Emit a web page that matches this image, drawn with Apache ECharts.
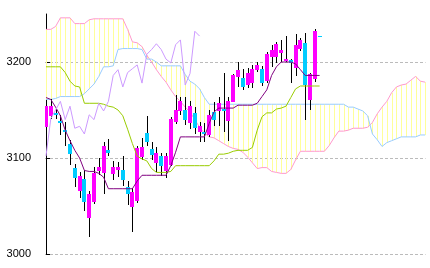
<!DOCTYPE html>
<html><head><meta charset="utf-8">
<script src="https://cdn.jsdelivr.net/npm/echarts@6/dist/echarts.min.js"></script>
<style>html,body{margin:0;padding:0;background:#fff}#c{width:430px;height:268px}</style>
</head><body><div id="c"></div>
<script>
// Candles (index 0..57)
const opens  = [3132,3144,3147,3139,3129,3115,3090,3066,3078,3037,3054,3086,3084,3108,3083,3087,3088,3070,3049,3055,3101,3126,3109,3095,3102,3086,3093,3137,3149,3150,3136,3147,3127,3127,3124,3148,3149,3151,3139,3158,3184,3183,3176,3178,3192,3193,3180,3205,3205,3209,3201,3202,3194,3214,3220,3160,3182,3227];
const closes = [3154,3154,3145,3136,3127,3104,3079,3081,3054,3062,3084,3091,3113,3105,3091,3091,3077,3062,3065,3110,3111,3117,3103,3105,3092,3102,3141,3150,3159,3140,3154,3131,3133,3125,3145,3140,3157,3149,3159,3186,3192,3174,3189,3193,3197,3178,3208,3213,3219,3213,3203,3199,3218,3223,3176,3188,3232,3227];
const lows   = [3130,3141,3141,3124,3112,3093,3070,3058,3045,3018,3052,3082,3062,3102,3077,3080,3071,3051,3023,3053,3098,3112,3098,3085,3081,3079,3092,3135,3145,3134,3130,3125,3117,3117,3122,3133,3133,3127,3118,3158,3174,3171,3173,3173,3190,3175,3178,3195,3199,3200,3200,3178,3185,3211,3140,3150,3179,3227];
const highs  = [3156,3161,3151,3145,3138,3119,3094,3085,3088,3066,3091,3100,3117,3120,3097,3096,3102,3076,3069,3113,3121,3144,3117,3111,3105,3105,3143,3166,3164,3164,3159,3153,3138,3136,3150,3158,3164,3189,3164,3187,3200,3193,3194,3197,3200,3196,3210,3218,3221,3223,3227,3203,3229,3225,3230,3189,3234,3227];
// Ichimoku lines
const tenkan = [3163,3161,3153,3144,3129,3118,3108,3100,3087,3086,3086,3084,3080,3068,3068,3068,3068,3068,3068,3076,3082,3082,3082,3082,3082,3082,3092,3106,3122,3122,3122,3122,3122,3122,3136,3148,3152,3152,3152,3152,3155,3155,3155,3155,3157,3164,3171,3186,3195,3200,3200,3200,3198,3192,3186,3186,3186,3186];
const kijun  = [3195,3195,3195,3195,3189,3180,3175,3174,3157,3157,3157,3157,3156,3154,3153,3150,3144,3130,3115,3102,3099,3097,3089,3085,3085,3085,3086,3092,3092,3092,3092,3092,3092,3092,3092,3097,3104,3104,3105,3107,3108,3108,3108,3111,3129,3143,3147,3147,3151,3152,3154,3163,3172,3175,3175,3175,3175,3175];
const spanA  = [3234,3234,3237,3246,3246,3246,3240,3240,3240,3244,3245,3245,3245,3245,3245,3245,3245,3234,3221,3220,3216,3207,3200,3192,3185,3179,3171,3164,3159,3153,3148,3140,3132,3126,3122,3121,3118,3115,3112,3110,3109,3106,3101,3095,3089,3090,3090,3086,3085,3084,3084,3088,3098,3107,3107,3107,3107,3107,3107,3113,3121,3128,3128,3129,3131,3131,3131,3132,3137,3146,3153,3159,3168,3174,3176,3177,3181,3185,3180,3179];
const spanB  = [3161,3161,3162,3164,3164,3164,3164,3164,3167,3172,3177,3185,3195,3195,3196,3213,3214,3214,3214,3214,3213,3203,3203,3200,3196,3196,3196,3196,3196,3187,3180,3177,3172,3163,3156,3156,3156,3156,3156,3156,3156,3156,3156,3156,3156,3156,3156,3156,3156,3156,3156,3156,3156,3156,3156,3156,3156,3156,3156,3156,3156,3156,3156,3153,3153,3151,3149,3144,3125,3119,3112,3116,3118,3120,3122,3122,3122,3122,3124,3124];
const chikouShift = 25;
const yTickValues = [3000, 3100, 3200];

const chart = echarts.init(document.getElementById('c'), null, {renderer: 'canvas'});
const candleData = opens.map((o, i) => [i, o, closes[i], lows[i], highs[i]]);
const toXY = arr => arr.map((v, i) => [i, v]);
const chikouData = closes.slice(chikouShift).map((v, i) => [i, v]);
const cloudData = spanA.map((a, i) => [i, a, spanB[i]]);

const lineSeries = (data, color, z) => ({
  type: 'line', data: data, symbol: 'none', silent: true, z: z,
  lineStyle: {color: color, width: 1}, emphasis: {disabled: true}, clip: true
});

chart.setOption({
  animation: false,
  grid: {left: 45, right: 4.5, top: 14, bottom: 14},
  xAxis: {type: 'value', min: -0.208, max: 79.06, show: false},
  yAxis: {
    type: 'value', min: 3000, max: 3250, interval: 100,
    axisLine: {show: true, lineStyle: {color: '#000', width: 1}},
    axisTick: {show: true, inside: true, length: 4, lineStyle: {color: '#000'}, customValues: yTickValues},
    axisLabel: {customValues: yTickValues, formatter: v => String(v), color: '#000', fontFamily: 'Liberation Sans', fontSize: 11, margin: 14},
    splitLine: {show: true, lineStyle: {color: '#bbbbbb', type: [3, 2], width: 1}}
  },
  series: [
    {
      type: 'custom', data: cloudData, clip: true, silent: true, z: 1,
      encode: {x: 0, y: [1, 2]},
      renderItem: function (params, api) {
        const i = api.value(0);
        const p1 = api.coord([i, api.value(1)]);
        const p2 = api.coord([i, api.value(2)]);
        const x = Math.round(p1[0]) + 0.5;
        return {type: 'line', shape: {x1: x, y1: p1[1], x2: x, y2: p2[1]}, style: {stroke: '#FFFF99', lineWidth: 1}};
      }
    },
    lineSeries(toXY(spanA), '#FF99CC', 2),
    lineSeries(toXY(spanB), '#99CCFF', 2),
    {
      type: 'custom', data: candleData, clip: true, silent: true, z: 3,
      encode: {x: 0, y: [1, 2, 3, 4]},
      renderItem: function (params, api) {
        const i = api.value(0);
        const o = api.value(1), c = api.value(2), l = api.value(3), h = api.value(4);
        const po = api.coord([i, o]), pc = api.coord([i, c]);
        const pl = api.coord([i, l]), ph = api.coord([i, h]);
        const cx = Math.round(po[0]);
        const up = c > o || (c === o && i > 0 && closes[i - 1] <= c);
        const color = up ? '#FF00FF' : '#00CCFF';
        let top = Math.round(Math.min(po[1], pc[1]));
        let bot = Math.round(Math.max(po[1], pc[1]));
        if (bot - top < 1) bot = top + 1;
        return {type: 'group', children: [
          {type: 'line', shape: {x1: cx + 0.5, y1: Math.round(ph[1]), x2: cx + 0.5, y2: Math.round(pl[1])}, style: {stroke: '#000', lineWidth: 1}},
          {type: 'rect', shape: {x: cx - 2, y: top, width: 4, height: bot - top}, style: {fill: color}}
        ]};
      }
    },
    lineSeries(toXY(kijun), '#99CC00', 4),
    lineSeries(toXY(tenkan), '#800080', 4),
    lineSeries(chikouData, '#CC99FF', 5)
  ]
});
</script>
</body></html>
